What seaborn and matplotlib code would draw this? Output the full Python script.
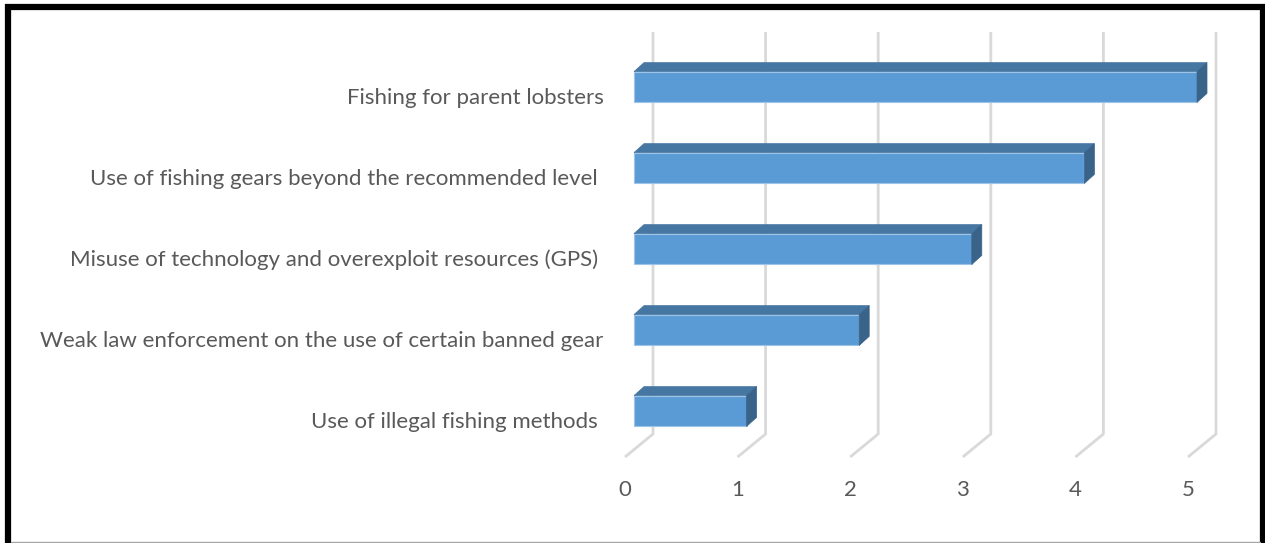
import numpy as np
import pandas as pd
import matplotlib
matplotlib.use("Agg")
import matplotlib.pyplot as plt
import matplotlib.transforms as mtransforms
from matplotlib.patches import Polygon
from matplotlib.lines import Line2D
import seaborn as sns

# data
causes = ["Fishing for parent lobsters",
          "Use of fishing gears beyond the recommended level ",
          "Misuse of technology and overexploit resources (GPS) ",
          "Weak law enforcement on the use of certain banned gear",
          "Use of illegal fishing methods "]
scores = [5, 4, 3, 2, 1]
x_ticks = [0, 1, 2, 3, 4, 5]

data = pd.DataFrame({"cause": causes, "score": scores})

sns.set_style("white")
plt.rcParams['font.family'] = ['Lato', 'DejaVu Sans']
text_col = "#595959"
grid_col = "#D9D9D9"

W, H = 1265, 543
fig = plt.figure(figsize=(W / 100, H / 100), dpi=100)
# axes so x=0..5 spans the bar fronts, rows 81 px apart
ax = fig.add_axes([634 / W, (H - 451.5) / H, 563 / W, 405 / H])

sns.barplot(data=data, x="score", y="cause", orient="h", width=0.38,
            color="#5B9BD5", saturation=1, edgecolor="#9DC3E6",
            linewidth=0.8, ax=ax, zorder=3)
ax.set_xlim(0, 5)
ax.set_ylim(4.5, -0.5)

# pseudo 3d depth (px converted to data units)
px_x = 563 / 5
px_y = 81
dx, dy = 10 / px_x, 9 / px_y
for p in ax.patches[:len(scores)]:
    x0, y0 = p.get_x(), p.get_y()
    w, h = p.get_width(), p.get_height()
    x1 = x0 + w
    top = Polygon([(x0, y0), (x0 + dx, y0 - dy), (x1 + dx, y0 - dy), (x1, y0)],
                  closed=True, facecolor="#4676A2", edgecolor="#4676A2",
                  linewidth=0.5, zorder=3, clip_on=False)
    side = Polygon([(x1, y0), (x1 + dx, y0 - dy), (x1 + dx, y0 + h - dy), (x1, y0 + h)],
                   closed=True, facecolor="#3A6389", edgecolor="#3A6389",
                   linewidth=0.5, zorder=3, clip_on=False)
    ax.add_patch(top)
    ax.add_patch(side)
    p.set_clip_on(False)

# back wall gridlines and floor
back_off = 19 / px_x
front_off = -9 / px_x
y_top = (33 - 88) / px_y
y_wall = (435 - 88) / px_y
y_floor = (458 - 88) / px_y
for v in x_ticks:
    ax.plot([v + back_off, v + back_off, v + front_off], [y_top, y_wall, y_floor],
            color=grid_col, lw=2, zorder=1, clip_on=False,
            solid_capstyle="butt")
    ax.text(v + front_off, (491 - 88) / px_y, str(v), ha="center", va="center",
            fontsize=16, color=text_col, clip_on=False)

ax.set_xticks([])
ax.set_xlabel("")
ax.set_ylabel("")
ax.tick_params(axis="y", length=0, pad=22, labelsize=16, labelcolor=text_col)
sns.despine(ax=ax, left=True, bottom=True)

# category labels sit a bit lower than the bar fronts
shift = mtransforms.ScaledTranslation(0, -9 / 100, fig.dpi_scale_trans)
for lab in ax.get_yticklabels():
    lab.set_transform(lab.get_transform() + shift)

# black frame around the picture, gray line at bottom
fig.add_artist(Line2D([8 / W, 8 / W, 1262.5 / W, 1262.5 / W],
                      [0, 1 - 7 / H, 1 - 7 / H, 0],
                      transform=fig.transFigure, color="black", lw=4.5,
                      solid_joinstyle="miter"))
fig.add_artist(Line2D([11 / W, 1260 / W], [1.5 / H, 1.5 / H],
                      transform=fig.transFigure, color="#A6A6A6", lw=1))

fig.savefig("out.png", dpi=100)
